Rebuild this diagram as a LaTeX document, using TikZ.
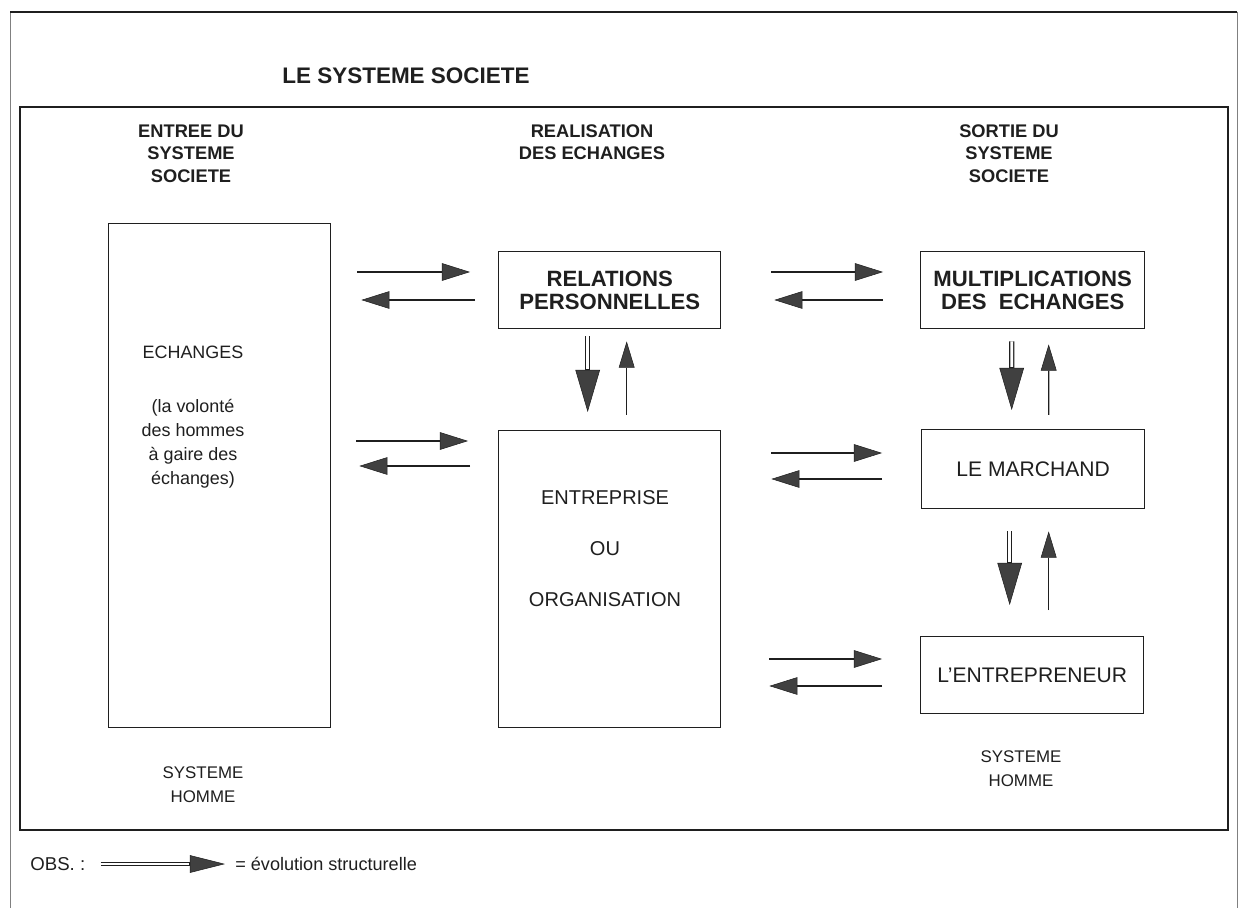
\documentclass[tikz,border=0pt]{standalone}
\usepackage{fontspec}
\setmainfont{Liberation Sans}
\usetikzlibrary{arrows.meta,calc}
\definecolor{ink}{gray}{0.12}
\definecolor{tipc}{gray}{0.25}
\begin{document}
\begin{tikzpicture}[x=0.02cm,y=-0.02cm,
  box/.style={draw=ink, line width=0.8pt, inner sep=0pt, align=center, text=ink, font=\fontsize{12}{14}\selectfont},
  boxb/.style={box, font=\bfseries\fontsize{12.6}{13}\selectfont},
  txt/.style={align=center, inner sep=0pt, text=ink},
  hdr/.style={txt, font=\bfseries\fontsize{10.4}{12.8}\selectfont},
  lbl/.style={txt, font=\fontsize{9.6}{13.6}\selectfont},
  flow/.style={draw=ink, line width=0.8pt, -{Triangle[length=16pt,width=10pt,line width=0.3pt,fill=tipc]}},
  upflow/.style={draw=ink, line width=0.7pt, -{Triangle[length=15pt,width=9pt,line width=0.3pt,fill=tipc]}},
  evo/.style={draw=ink, line width=3pt, -{Triangle[length=24pt,width=14pt,line width=0.3pt,fill=tipc]}, postaction={draw=white, line width=1.5pt, -, shorten >=24.5pt}},
  legevo/.style={draw=ink, line width=2.6pt, -{Triangle[length=20pt,width=10pt,line width=0.3pt,fill=tipc]}, postaction={draw=white, line width=1.2pt, -, shorten >=20.5pt}},
]
\useasboundingbox (0,0) rectangle (1240,908);
\fill[white] (0,0) rectangle (1240,908);

% outer and inner frames
\draw[draw=gray, line width=0.4pt] (10,908) -- (10,12);
\draw[draw=gray, line width=0.4pt] (1237,12) -- (1237,908);
\draw[draw=ink, line width=0.7pt] (10,12) -- (1237,12);
\draw[draw=ink, line width=1.1pt] (20,107) rectangle (1228,830);

% title and headers
\node[txt, font=\bfseries\fontsize{12.8}{15}\selectfont] (title) at (406,76) {LE SYSTEME SOCIETE};
\node[hdr] (h1) at (191,153.5) {ENTREE DU\\SYSTEME\\SOCIETE};
\node[hdr] (h2) at (592,142) {REALISATION\\DES ECHANGES};
\node[hdr] (h3) at (1009,153.5) {SORTIE DU\\SYSTEME\\SOCIETE};

% boxes
\node[box, anchor=north west, minimum width=4.44cm, minimum height=10.08cm] (ech) at (108,223) {};
\node[txt, font=\fontsize{10.2}{13.6}\selectfont] (echtxt) at (193,417) {ECHANGES\\[17pt](la volonté\\des hommes\\à gaire des\\échanges)};
\node[boxb, anchor=north west, minimum width=4.44cm, minimum height=1.54cm] (rel) at (498,251) {RELATIONS\\PERSONNELLES};
\node[box, anchor=north west, minimum width=4.44cm, minimum height=5.94cm] (ent) at (498,430) {};
\node[txt, font=\fontsize{11.4}{14}\selectfont] (enttxt) at (605,548.5) {ENTREPRISE\\[15.2pt]OU\\[15.2pt]ORGANISATION};
\node[boxb, anchor=north west, minimum width=4.48cm, minimum height=1.54cm] (mult) at (920,251) {MULTIPLICATIONS\\DES\ \ ECHANGES};
\node[box, anchor=north west, minimum width=4.46cm, minimum height=1.58cm] (mar) at (921,429) {LE MARCHAND};
\node[box, anchor=north west, minimum width=4.46cm, minimum height=1.54cm] (entr) at (920,636) {L'ENTREPRENEUR};

% bottom labels
\node[lbl] (sh1) at (203,785) {SYSTEME\\HOMME};
\node[lbl] (sh2) at (1021,768.5) {SYSTEME\\HOMME};

% horizontal exchanges
\draw[flow] ($(rel.north west)+(-141,21)$) -- ($(rel.north west)+(-28,21)$);
\draw[flow] ($(rel.north west)+(-23,49)$) -- ($(ech.north east)+(30,77)$);
\draw[flow] ($(rel.north east)+(50,21)$) -- ($(mult.north west)+(-37,21)$);
\draw[flow] ($(mult.north west)+(-37,49)$) -- ($(rel.north east)+(53,49)$);
\draw[flow] ($(ech.north east)+(25,218)$) -- ($(ent.north west)+(-30,11)$);
\draw[flow] ($(ent.north west)+(-28,36)$) -- ($(ech.north east)+(28,243)$);
\draw[flow] ($(ent.north east)+(50,23)$) -- ($(mar.north west)+(-39,24)$);
\draw[flow] ($(mar.north west)+(-39,50)$) -- ($(ent.north east)+(50,49)$);
\draw[flow] ($(ent.north east)+(48,229)$) -- ($(entr.north west)+(-38,23)$);
\draw[flow] ($(entr.north west)+(-38,50)$) -- ($(ent.north east)+(48,256)$);

% vertical links
\draw[evo] ($(rel.south)+(-22,7)$) -- ($(ent.north)+(-22,-18)$);
\draw[upflow] ($(ent.north)+(17,-15)$) -- ($(rel.south)+(17,12)$);
\draw[evo] ($(mult.south)+(-21,12)$) -- ($(mar.north)+(-21.5,-19)$);
\draw[upflow] ($(mar.north)+(15.5,-14)$) -- ($(mult.south)+(16,15)$);
\draw[evo] ($(mar.south)+(-23.5,22)$) -- ($(entr.north)+(-22.5,-31)$);
\draw[upflow] ($(entr.north)+(16.5,-26)$) -- ($(mar.south)+(15.5,22)$);

% legend
\node[txt, anchor=west, font=\fontsize{10.6}{13}\selectfont] (obs) at (30,864) {OBS. :};
\node[txt, anchor=west, font=\fontsize{10.3}{13}\selectfont] (legtxt) at (235,864) {= évolution structurelle};
\draw[legevo] ($(obs.east)+(15,0)$) -- ($(legtxt.west)+(-10,0)$);
\end{tikzpicture}
\end{document}
